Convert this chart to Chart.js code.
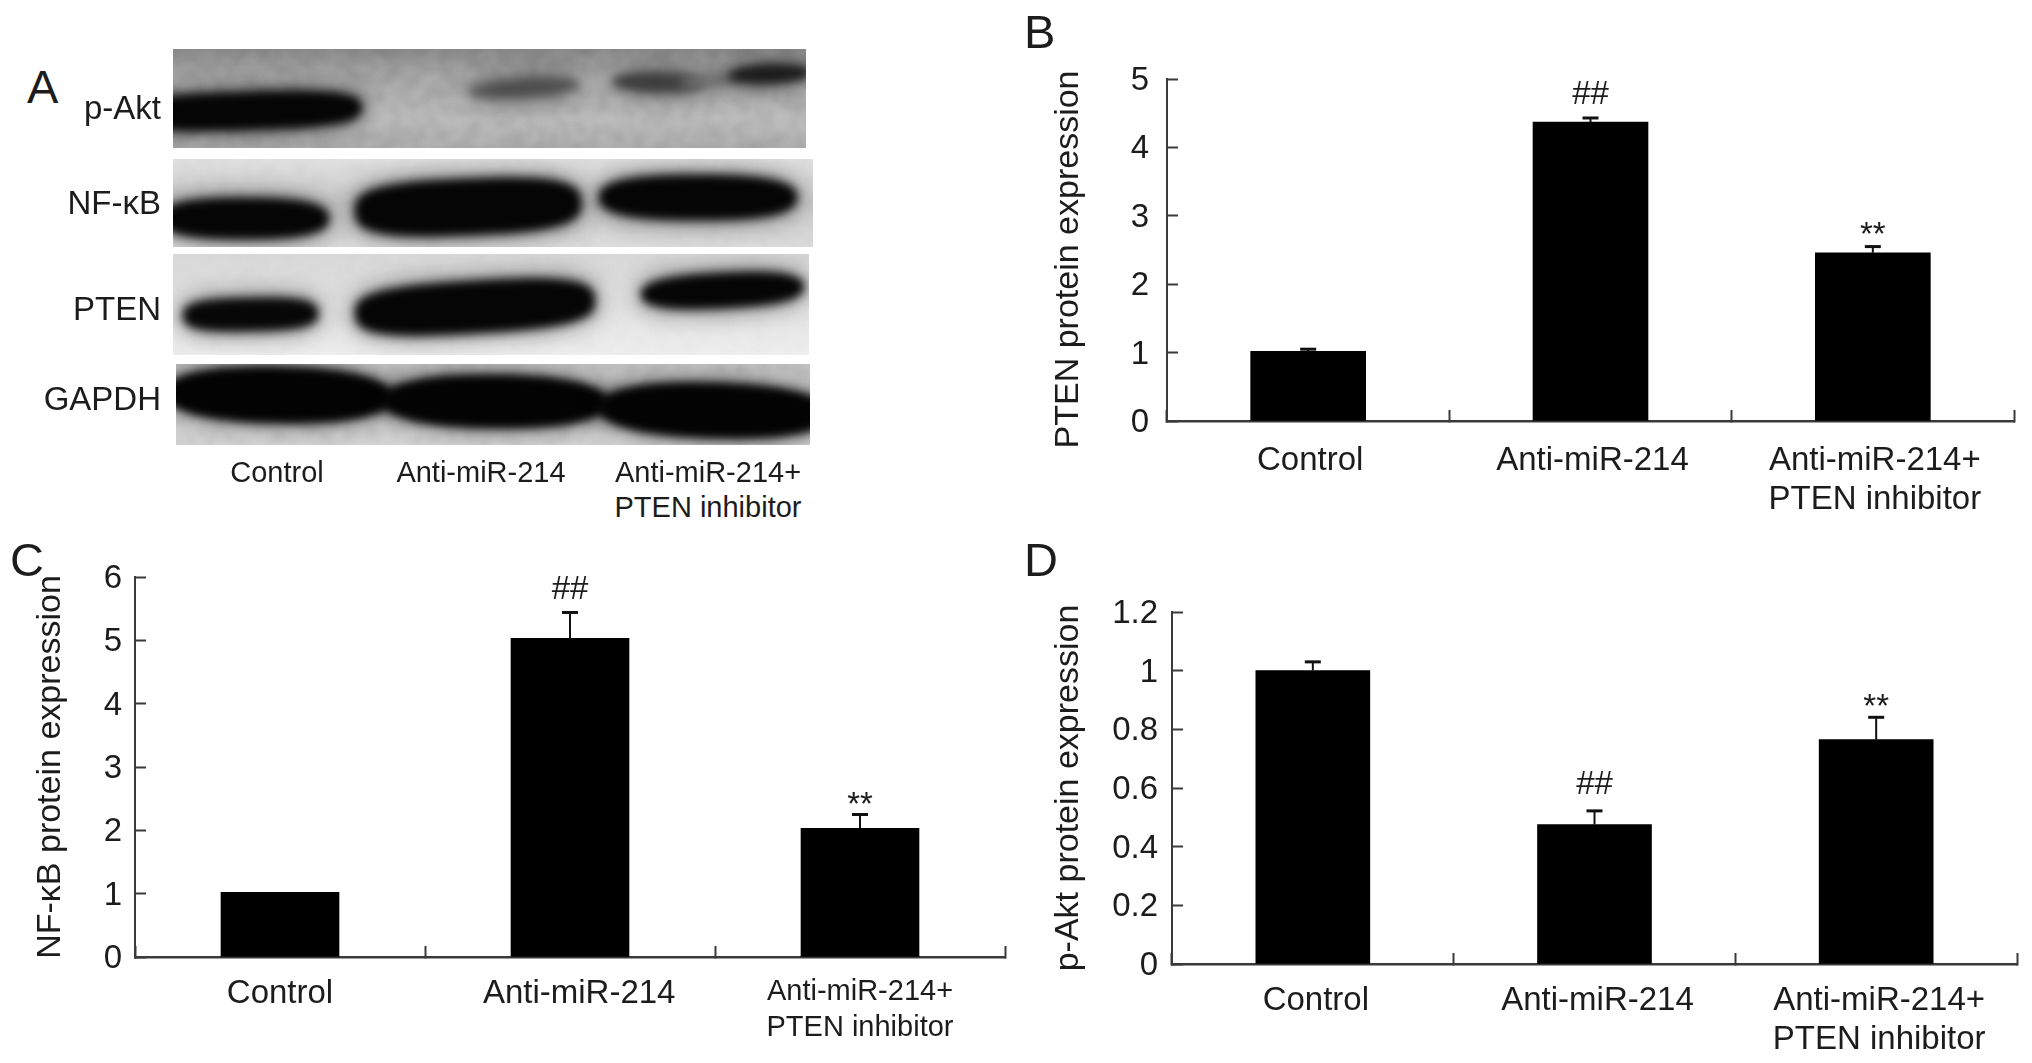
<!DOCTYPE html>
<html><head><meta charset="utf-8">
<style>
html,body{margin:0;padding:0;background:#fff;width:2032px;height:1063px;overflow:hidden}
canvas{position:absolute;display:block}
.t{position:absolute;font-family:"Liberation Sans",Arial,sans-serif;color:#1c1c1c;white-space:nowrap}
</style>
<script src="https://cdn.jsdelivr.net/npm/chart.js@4/dist/chart.umd.min.js"></script>
</head><body>
<canvas id="blot" style="left:160px;top:40px" width="670" height="420"></canvas>
<canvas id="b" style="left:1020px;top:0" width="1012" height="540"></canvas>
<canvas id="c" style="left:0;top:530px" width="1020" height="533"></canvas>
<canvas id="d" style="left:1020px;top:530px" width="1012" height="533"></canvas>
<script>
const categories = ['Control', 'Anti-miR-214', ['Anti-miR-214+', 'PTEN inhibitor']];
const nfkbCategories = ['Control', '\u00A0\u00A0Anti-miR-214', ['Anti-miR-214+', 'PTEN inhibitor']];
const ptenValues = [1.02, 4.37, 2.46];
const ptenErrors = [0.03, 0.06, 0.09];
const nfkbValues = [1.02, 5.03, 2.03];
const nfkbErrors = [0, 0.41, 0.22];
const paktValues = [1.0, 0.475, 0.765];
const paktErrors = [0.03, 0.047, 0.076];
const marks = ['', '##', '**'];
const ptenTicks = [0, 1, 2, 3, 4, 5];
const nfkbTicks = [0, 1, 2, 3, 4, 5, 6];
const paktTicks = [0, 0.2, 0.4, 0.6, 0.8, 1, 1.2];

const FONT = '"Liberation Sans", Arial, sans-serif';
const INK = '#1c1c1c', AXIS = '#3a3a3a';

const errorBars = {
  id: 'errorBars',
  afterDatasetsDraw(chart, args, opts) {
    const ctx = chart.ctx, y = chart.scales.y, els = chart.getDatasetMeta(0).data;
    ctx.save();
    els.forEach((el, i) => {
      const base = y.getPixelForValue(opts.values[i]);
      const top = y.getPixelForValue(opts.values[i] + opts.errors[i]);
      if (opts.errors[i] > 0) {
        ctx.strokeStyle = '#111';
        ctx.lineWidth = 2;
        ctx.beginPath(); ctx.moveTo(el.x, base); ctx.lineTo(el.x, top); ctx.stroke();
        ctx.lineWidth = 3;
        ctx.beginPath(); ctx.moveTo(el.x - 8, top); ctx.lineTo(el.x + 8, top); ctx.stroke();
      }
      if (marks[i]) {
        ctx.fillStyle = INK;
        ctx.textAlign = 'center';
        ctx.textBaseline = 'alphabetic';
        ctx.font = '33px ' + FONT;
        ctx.fillText(marks[i], el.x, top - (marks[i] === '##' ? opts.hashGap : opts.starGap));
      }
    });
    ctx.restore();
  }
};

function makeChart(id, cfg) {
  return new Chart(document.getElementById(id), {
    type: 'bar',
    plugins: [errorBars],
    data: {
      labels: cfg.labels,
      datasets: [{ data: cfg.values, backgroundColor: '#000', borderWidth: 0, barThickness: cfg.barWidth }]
    },
    options: {
      responsive: false, animation: false, devicePixelRatio: 1,
      layout: { padding: cfg.padding },
      plugins: {
        legend: { display: false }, tooltip: { enabled: false }, title: { display: false },
        errorBars: { values: cfg.values, errors: cfg.errors, hashGap: cfg.hashGap, starGap: cfg.starGap }
      },
      scales: {
        x: {
          grid: { drawOnChartArea: false, tickLength: -11, tickColor: AXIS, tickWidth: 2, offset: true },
          border: { display: true, color: AXIS, width: 2.5 },
          ticks: {
            autoSkip: false, maxRotation: 0, minRotation: 0, color: INK, padding: cfg.xPad, labelOffset: cfg.xShift,
            font: c => ({ family: FONT, size: (cfg.smallLast && c.index === 2) ? 29 : 33, lineHeight: (cfg.smallLast && c.index === 2) ? 1.24 : 1.18 })
          },
          afterFit: s => { s.height = cfg.xHeight; }
        },
        y: {
          min: 0, max: cfg.ticks[cfg.ticks.length - 1],
          afterBuildTicks: s => { s.ticks = cfg.ticks.map(v => ({ value: v })); },
          grid: { drawOnChartArea: false, tickLength: -11, tickColor: AXIS, tickWidth: 2 },
          border: { display: true, color: AXIS, width: 2 },
          ticks: {
            color: INK, padding: cfg.yPad, labelOffset: 2, font: { family: FONT, size: 33 },
            callback: v => String(v)
          },
          title: { display: true, text: cfg.title, color: INK, font: { family: FONT, size: 34 }, padding: { top: cfg.titlePad, bottom: 0 } },
          afterFit: s => { s.width = cfg.yWidth; }
        }
      }
    }
  });
}

makeChart('b', { labels: categories, values: ptenValues, errors: ptenErrors, ticks: ptenTicks, title: 'PTEN protein expression  ',
  barWidth: 115, padding: { left: 0, top: 79, right: 18, bottom: 0 }, xHeight: 119, yWidth: 147,
  xPad: 31, xShift: 2, yPad: 29, titlePad: 28, hashGap: 14, starGap: 2 });
makeChart('c', { labels: nfkbCategories, values: nfkbValues, errors: nfkbErrors, ticks: nfkbTicks, title: 'NF-\u03BAB protein expression',
  barWidth: 118, padding: { left: 0, top: 47, right: 15, bottom: 0 }, xHeight: 106, yWidth: 135, smallLast: true,
  xPad: 28, xShift: 0, yPad: 24, titlePad: 30, hashGap: 13, starGap: 0 });
makeChart('d', { labels: categories, values: paktValues, errors: paktErrors, ticks: paktTicks, title: 'p-Akt protein expression',
  barWidth: 114, padding: { left: 0, top: 82, right: 15, bottom: 0 }, xHeight: 99, yWidth: 152,
  xPad: 28, xShift: 3, yPad: 25, titlePad: 28, hashGap: 17, starGap: 0 });

/* Panel A: the western blot photograph, painted as soft bands */
(function () {
  const g = document.getElementById('blot').getContext('2d');
  const OX = 160, OY = 40;
  function hash(a, b) { const s = Math.sin(a * 12.9898 + b * 78.233) * 43758.5453; return s - Math.floor(s); }
  function blob(cx, cy, a, b, rot, n) {
    g.save(); g.translate(cx, cy); g.rotate(rot);
    g.beginPath();
    for (let k = 0; k < 120; k++) {
      const t = k / 120 * Math.PI * 2, c = Math.cos(t), s = Math.sin(t);
      const px = a * Math.sign(c) * Math.pow(Math.abs(c), 2 / n);
      const py = b * Math.sign(s) * Math.pow(Math.abs(s), 2 / n);
      k ? g.lineTo(px, py) : g.moveTo(px, py);
    }
    g.closePath(); g.fill(); g.restore();
  }
  function strip(x, y, w, h, stops, grain, bands) {
    g.save();
    g.beginPath(); g.rect(x - OX, y - OY, w, h); g.clip();
    const gr = g.createLinearGradient(0, y - OY, 0, y - OY + h);
    stops.forEach(s => gr.addColorStop(s[0], s[1]));
    g.fillStyle = gr; g.fillRect(x - OX, y - OY, w, h);
    g.filter = 'blur(3px)';
    for (let i = 0; i < w; i += 6) for (let j = 0; j < h; j += 6) {
      const n = hash(i + x, j + y);
      g.fillStyle = n > 0.5 ? 'rgba(255,255,255,' + (n - 0.5) * grain + ')' : 'rgba(0,0,0,' + (0.5 - n) * grain + ')';
      g.fillRect(x - OX + i, y - OY + j, 6, 6);
    }
    bands.forEach(b => {
      const [x1, y1, x2, y2, rot, col, soft, n] = b;
      const cx = (x1 + x2) / 2 - OX, cy = (y1 + y2) / 2 - OY, a = (x2 - x1) / 2, bb = (y2 - y1) / 2;
      g.fillStyle = col;
      g.filter = 'blur(' + soft * 2.4 + 'px)'; g.globalAlpha = 0.55; blob(cx, cy, a + 2, bb + 2, rot, n);
      g.filter = 'blur(' + soft + 'px)'; g.globalAlpha = 1; blob(cx, cy, a, bb, rot, n);
    });
    g.restore();
  }
  strip(173, 49, 633, 99, [[0, '#8a8a8a'], [0.3, '#a8a8a8'], [0.7, '#bcbcbc'], [1, '#aeaeae']], 0.16, [
    [130, 92, 362, 130, -0.03, '#050505', 5, 3],
    [468, 78, 580, 98, -0.07, '#4a4a4a', 6, 2],
    [612, 72, 706, 93, 0.02, '#3e3e3e', 5, 2],
    [680, 74, 750, 86, -0.1, '#707070', 5, 2],
    [728, 64, 812, 84, -0.04, '#1c1c1c', 5, 2]
  ]);
  strip(173, 159, 640, 88, [[0, '#e0e0e0'], [0.5, '#cccccc'], [1, '#dcdcdc']], 0.05, [
    [160, 198, 329, 239, 0, '#050505', 5, 2.6],
    [355, 179, 581, 235, -0.04, '#050505', 5, 3],
    [599, 175, 797, 220, 0, '#050505', 5, 2.6]
  ]);
  strip(173, 254, 636, 101, [[0, '#d8d8d8'], [0.5, '#e2e2e2'], [1, '#eeeeee']], 0.04, [
    [183, 298, 318, 331, -0.02, '#070707', 5, 3],
    [355, 281, 595, 333, -0.06, '#050505', 5, 3],
    [641, 273, 804, 308, -0.05, '#050505', 5, 2.6]
  ]);
  strip(176, 364, 634, 81, [[0, '#c0c0c0'], [1, '#d2d2d2']], 0.12, [
    [165, 367, 392, 423, 0.02, '#030303', 4, 2.3],
    [382, 375, 608, 428, 0.01, '#030303', 4, 2.3],
    [598, 383, 830, 438, 0.03, '#030303', 4, 2.3]
  ]);
})();

/* Panel letters and blot captions as real text */
const captions = [
  ['A', 27, null, 103, 47], ['B', 1024, null, 48, 47], ['C', 10, null, 576, 47], ['D', 1024, null, 576, 47],
  ['p-Akt', null, 161, 119, 33], ['NF-\u03BAB', null, 161, 214, 33], ['PTEN', null, 161, 320, 33], ['GAPDH', null, 161, 410, 33]
];
captions.forEach(([text, left, right, base, size]) => {
  const e = document.createElement('div');
  e.className = 't'; e.textContent = text;
  e.style.fontSize = size + 'px'; e.style.lineHeight = size + 'px';
  e.style.top = (base - 0.8465 * size) + 'px';
  if (left !== null) e.style.left = left + 'px';
  else e.style.right = (2032 - right) + 'px';
  document.body.appendChild(e);
});
const blotLabels = [['Control', 277, 483], ['Anti-miR-214', 481, 483], ['Anti-miR-214+', 708, 483], ['PTEN inhibitor', 708, 518]];
blotLabels.forEach(([text, cx, base]) => {
  const e = document.createElement('div');
  e.className = 't'; e.textContent = text;
  e.style.fontSize = '29px'; e.style.lineHeight = '29px';
  e.style.top = (base - 0.8465 * 29) + 'px';
  e.style.left = cx + 'px'; e.style.transform = 'translateX(-50%)';
  document.body.appendChild(e);
});
</script>
</body></html>
